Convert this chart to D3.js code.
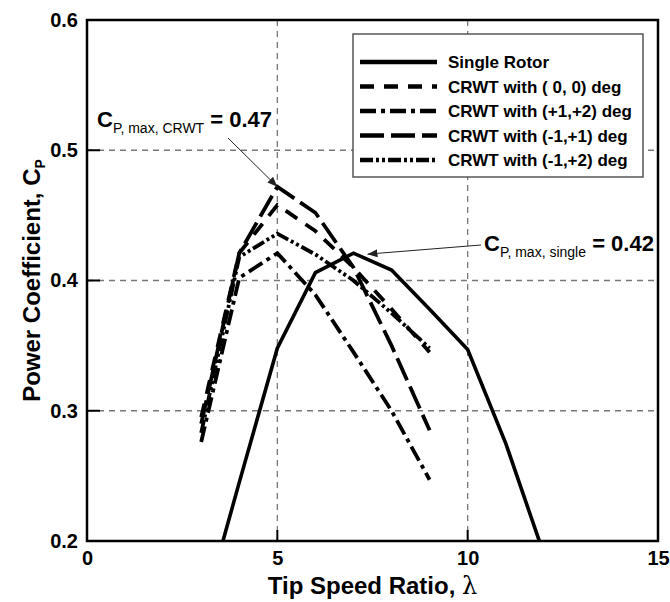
<!DOCTYPE html>
<html>
<head>
<meta charset="utf-8">
<script src="https://cdn.jsdelivr.net/npm/d3@7"></script>
<style>
  body { margin: 0; background: #fff; }
  svg { display: block; font-family: "Liberation Sans", Arial, sans-serif; }
</style>
</head>
<body>
<div id="chart"></div>
<script>
// tip speed ratio values
const lambdaSingle = [3, 4, 5, 6, 7, 8, 9, 10, 11, 12];
const lambdaCrwt = [3, 4, 5, 6, 7, 8, 9];

// power coefficients
const cpSingle = [0.14, 0.245, 0.348, 0.406, 0.421, 0.408, 0.378, 0.347, 0.275, 0.19];
const cp00 = [0.295, 0.421, 0.458, 0.438, 0.41, 0.378, 0.345];
const cpP1P2 = [0.276, 0.402, 0.421, 0.389, 0.345, 0.30, 0.247];
const cpM1P1 = [0.29, 0.421, 0.472, 0.452, 0.41, 0.35, 0.285];
const cpM1P2 = [0.283, 0.418, 0.436, 0.42, 0.40, 0.375, 0.348];

const seriesNames = ["Single Rotor", "CRWT with ( 0, 0) deg", "CRWT with (+1,+2) deg",
  "CRWT with (-1,+1) deg", "CRWT with (-1,+2) deg"];
const xTicks = [0, 5, 10, 15];
const yTicks = [0.2, 0.3, 0.4, 0.5, 0.6];

const series = [
  { name: seriesNames[0], x: lambdaSingle, y: cpSingle },
  { name: seriesNames[1], x: lambdaCrwt, y: cp00 },
  { name: seriesNames[2], x: lambdaCrwt, y: cpP1P2 },
  { name: seriesNames[3], x: lambdaCrwt, y: cpM1P1 },
  { name: seriesNames[4], x: lambdaCrwt, y: cpM1P2 }
];
// line styles, same order as the series
const dashes = ["none", "14,10", "16,5,4,5", "24,7", "13,3,3,3,3,3"];

const width = 670, height = 602;
const mLeft = 87, mRight = 658, mTop = 20, mBottom = 541;

const x = d3.scaleLinear().domain([0, 15]).range([mLeft, mRight]);
const y = d3.scaleLinear().domain([0.2, 0.6]).range([mBottom, mTop]);

const svg = d3.select("#chart").append("svg")
  .attr("width", width)
  .attr("height", height);

const defs = svg.append("defs");
defs.append("clipPath").attr("id", "plot")
  .append("rect")
  .attr("x", mLeft).attr("y", mTop)
  .attr("width", mRight - mLeft).attr("height", mBottom - mTop);

defs.append("marker")
  .attr("id", "arrow")
  .attr("viewBox", "0 0 10 10")
  .attr("refX", 10).attr("refY", 5)
  .attr("markerWidth", 10).attr("markerHeight", 10)
  .attr("markerUnits", "userSpaceOnUse")
  .attr("orient", "auto")
  .append("path")
  .attr("d", "M0,1 L10,5 L0,9 Z")
  .attr("fill", "#222");

// grid
const grid = svg.append("g");
grid.selectAll(".gx")
  .data(xTicks.slice(1, -1))
  .enter().append("line")
  .attr("x1", d => x(d)).attr("x2", d => x(d))
  .attr("y1", mTop).attr("y2", mBottom)
  .attr("stroke", "#777").attr("stroke-width", 1.3)
  .attr("stroke-dasharray", "6,5");
grid.selectAll(".gy")
  .data(yTicks.slice(1, -1))
  .enter().append("line")
  .attr("x1", mLeft).attr("x2", mRight)
  .attr("y1", d => y(d)).attr("y2", d => y(d))
  .attr("stroke", "#777").attr("stroke-width", 1.3)
  .attr("stroke-dasharray", "6,5");

// inner tick marks
grid.selectAll(".tx")
  .data(xTicks.slice(1, -1))
  .enter().append("line")
  .attr("x1", d => x(d)).attr("x2", d => x(d))
  .attr("y1", mBottom).attr("y2", mBottom - 11)
  .attr("stroke", "#000").attr("stroke-width", 2);
grid.selectAll(".ty")
  .data(yTicks.slice(1, -1))
  .enter().append("line")
  .attr("x1", mLeft).attr("x2", mLeft + 13)
  .attr("y1", d => y(d)).attr("y2", d => y(d))
  .attr("stroke", "#000").attr("stroke-width", 2);

// curves
const line = d3.line()
  .x(d => x(d[0]))
  .y(d => y(d[1]));

svg.append("g")
  .attr("clip-path", "url(#plot)")
  .selectAll("path")
  .data(series)
  .enter().append("path")
  .attr("d", d => line(d.x.map((v, i) => [v, d.y[i]])))
  .attr("fill", "none")
  .attr("stroke", "#000")
  .attr("stroke-width", (d, i) => i === 0 ? 3.6 : 3.8)
  .attr("stroke-dasharray", (d, i) => dashes[i]);

// frame
svg.append("rect")
  .attr("x", mLeft).attr("y", mTop)
  .attr("width", mRight - mLeft).attr("height", mBottom - mTop)
  .attr("fill", "none")
  .attr("stroke", "#000")
  .attr("stroke-width", 2.5);

// axes (labels only, the frame draws the lines)
const xAxis = svg.append("g")
  .attr("transform", "translate(0," + mBottom + ")")
  .call(d3.axisBottom(x).tickValues(xTicks).tickSize(0).tickPadding(5).tickFormat(d3.format("d")));
const yAxis = svg.append("g")
  .attr("transform", "translate(" + mLeft + ",0)")
  .call(d3.axisLeft(y).tickValues(yTicks).tickSize(0).tickPadding(9).tickFormat(d3.format(".1f")));
[xAxis, yAxis].forEach(a => {
  a.select(".domain").remove();
  a.selectAll("text")
    .attr("font-family", "Liberation Sans, Arial, sans-serif")
    .attr("font-size", 20)
    .attr("font-weight", "bold")
    .attr("fill", "#000");
});
xAxis.selectAll("text").attr("dy", "0.95em");

// axis titles
const xt = svg.append("text")
  .attr("x", (mLeft + mRight) / 2)
  .attr("y", 594)
  .attr("text-anchor", "middle")
  .attr("font-size", 24)
  .attr("font-weight", "bold")
  .text("Tip Speed Ratio, ");
xt.append("tspan")
  .attr("font-family", "DejaVu Serif, serif")
  .attr("font-weight", "normal")
  .text("λ");

const yt = svg.append("text")
  .attr("transform", "translate(40," + ((mTop + mBottom) / 2) + ") rotate(-90)")
  .attr("text-anchor", "middle")
  .attr("font-size", 24)
  .attr("font-weight", "bold")
  .text("Power Coefficient, C");
yt.append("tspan")
  .attr("font-size", 14)
  .attr("dy", 5)
  .text("P");

// legend
const legend = svg.append("g");
legend.append("rect")
  .attr("x", 353).attr("y", 34)
  .attr("width", 290).attr("height", 143)
  .attr("fill", "#fff")
  .attr("stroke", "#555")
  .attr("stroke-width", 1.5);
const rows = legend.selectAll(".row")
  .data(series)
  .enter().append("g")
  .attr("transform", (d, i) => "translate(0," + (62 + i * 24.5) + ")");
rows.append("line")
  .attr("x1", 360).attr("x2", 437)
  .attr("stroke", "#000")
  .attr("stroke-width", 4.5)
  .attr("stroke-dasharray", (d, i) => dashes[i]);
rows.append("text")
  .attr("x", 448)
  .attr("dy", "0.36em")
  .attr("font-size", 17)
  .attr("font-weight", "bold")
  .text(d => d.name);

// annotations
const peakCrwt = d3.max(cpM1P1);
const peakSingle = d3.max(cpSingle);

svg.append("line")
  .attr("x1", 228).attr("y1", 138)
  .attr("x2", x(5)).attr("y2", y(peakCrwt))
  .attr("stroke", "#222").attr("stroke-width", 1)
  .attr("marker-end", "url(#arrow)");
const a1 = svg.append("text")
  .attr("x", 97).attr("y", 127)
  .attr("font-size", 22)
  .attr("font-weight", "bold");
a1.append("tspan").text("C");
a1.append("tspan").attr("font-size", 14).attr("font-weight", "normal").attr("dy", 6).text("P, max, CRWT");
a1.append("tspan").attr("dy", -6).text(" = " + peakCrwt.toFixed(2));

svg.append("line")
  .attr("x1", 481).attr("y1", 245)
  .attr("x2", x(7) + 14).attr("y2", y(peakSingle) + 1)
  .attr("stroke", "#222").attr("stroke-width", 1)
  .attr("marker-end", "url(#arrow)");
const a2 = svg.append("text")
  .attr("x", 484).attr("y", 251)
  .attr("font-size", 22)
  .attr("font-weight", "bold");
a2.append("tspan").text("C");
a2.append("tspan").attr("font-size", 14).attr("font-weight", "normal").attr("dy", 6).text("P, max, single");
a2.append("tspan").attr("dy", -6).text(" = " + peakSingle.toFixed(2));
</script>
</body>
</html>
